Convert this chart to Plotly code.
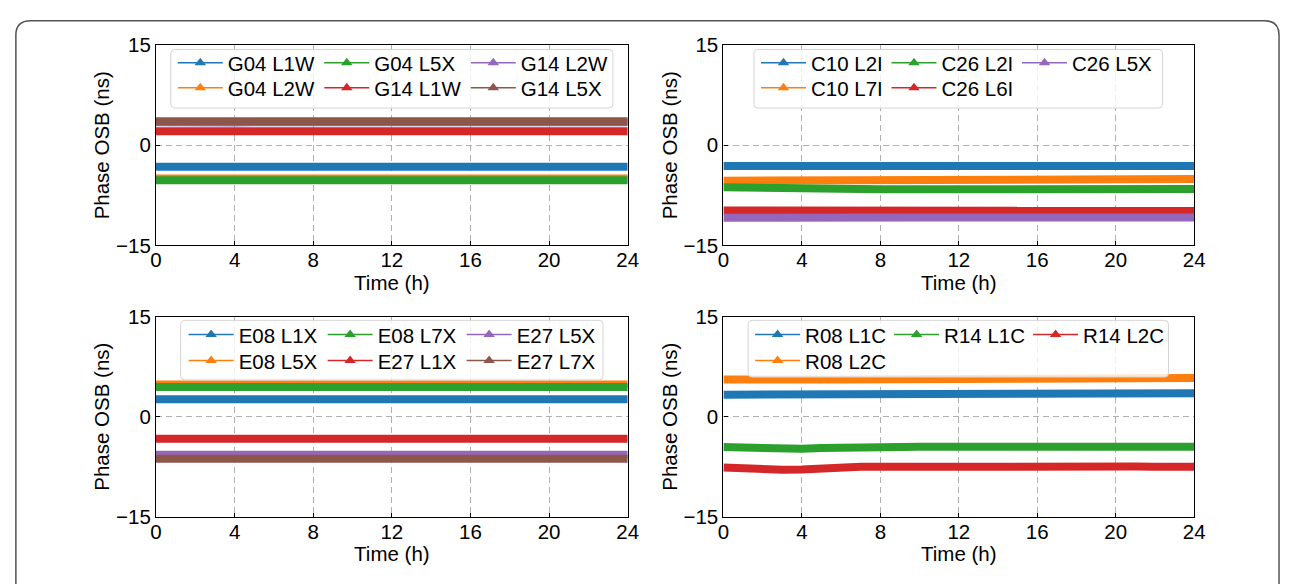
import plotly.graph_objects as go

W, H = 1292, 584

# ---------------- data ----------------
t_hours = [0, 1, 2, 3, 4, 5, 6, 7, 8, 9, 10, 11, 12, 13, 14, 15, 16, 17, 18, 19, 20, 21, 22, 23, 24]
x_ticks = [0, 4, 8, 12, 16, 20, 24]
y_ticks = [-15, 0, 15]

# Panel 1 (GPS)
G04_L1W = [-3.20, -3.20, -3.21, -3.20, -3.19, -3.20, -3.20, -3.21, -3.20, -3.20, -3.19, -3.20, -3.20, -3.21, -3.20, -3.20, -3.20, -3.19, -3.20, -3.20, -3.21, -3.20, -3.20, -3.20, -3.20]
G04_L2W = [-4.98, -4.98, -4.99, -4.98, -4.98, -4.97, -4.98, -4.98, -4.99, -4.98, -4.98, -4.98, -4.97, -4.98, -4.98, -4.99, -4.98, -4.98, -4.98, -4.97, -4.98, -4.98, -4.98, -4.99, -4.98]
G04_L5X = [-5.22, -5.22, -5.23, -5.22, -5.22, -5.21, -5.22, -5.22, -5.23, -5.22, -5.22, -5.22, -5.21, -5.22, -5.22, -5.23, -5.22, -5.22, -5.22, -5.21, -5.22, -5.22, -5.22, -5.23, -5.22]
G14_L1W = [2.10, 2.10, 2.09, 2.10, 2.10, 2.11, 2.10, 2.10, 2.09, 2.10, 2.10, 2.10, 2.11, 2.10, 2.10, 2.09, 2.10, 2.10, 2.10, 2.11, 2.10, 2.10, 2.10, 2.09, 2.10]
G14_L2W = [3.45, 3.40, 3.20, 3.22, 3.40, 3.45, 3.45, 3.40, 3.22, 3.18, 3.20, 3.28, 3.42, 3.45, 3.45, 3.45, 3.44, 3.45, 3.45, 3.45, 3.44, 3.45, 3.45, 3.45, 3.45]
G14_L5X = [3.60, 3.60, 3.61, 3.60, 3.60, 3.59, 3.60, 3.60, 3.61, 3.60, 3.60, 3.60, 3.59, 3.60, 3.60, 3.61, 3.60, 3.60, 3.60, 3.59, 3.60, 3.60, 3.60, 3.61, 3.60]

# Panel 2 (BDS)
C10_L2I = [-3.10, -3.10, -3.12, -3.10, -3.10, -3.08, -3.10, -3.10, -3.10, -3.10, -3.08, -3.05, -3.00, -2.98, -3.05, -3.15, -3.20, -3.18, -3.12, -3.05, -3.02, -3.10, -3.15, -3.15, -3.12]
C10_L7I = [-5.30, -5.30, -5.28, -5.30, -5.30, -5.28, -5.25, -5.25, -5.22, -5.20, -5.15, -5.12, -5.10, -5.10, -5.10, -5.10, -5.12, -5.10, -5.08, -5.08, -5.10, -5.10, -5.08, -5.05, -5.05]
C26_L2I = [-6.30, -6.30, -6.32, -6.30, -6.32, -6.35, -6.40, -6.55, -6.60, -6.60, -6.58, -6.55, -6.52, -6.50, -6.52, -6.55, -6.55, -6.52, -6.50, -6.52, -6.55, -6.55, -6.52, -6.52, -6.55]
C26_L6I = [-9.75, -9.75, -9.78, -9.78, -9.80, -9.80, -9.82, -9.85, -9.85, -9.85, -9.85, -9.85, -9.85, -9.85, -9.85, -9.85, -9.83, -9.82, -9.80, -9.80, -9.80, -9.80, -9.82, -9.82, -9.82]
C26_L5X = [-10.85, -10.82, -10.80, -10.80, -10.80, -10.82, -10.82, -10.85, -10.85, -10.85, -10.82, -10.82, -10.80, -10.80, -10.82, -10.82, -10.85, -10.85, -10.85, -10.82, -10.82, -10.82, -10.80, -10.80, -10.80]

# Panel 3 (Galileo)
E08_L1X = [2.60, 2.60, 2.61, 2.60, 2.60, 2.59, 2.60, 2.60, 2.61, 2.60, 2.60, 2.60, 2.59, 2.60, 2.60, 2.61, 2.60, 2.60, 2.60, 2.59, 2.60, 2.60, 2.60, 2.61, 2.60]
E08_L5X = [4.82, 4.82, 4.83, 4.82, 4.82, 4.81, 4.82, 4.82, 4.83, 4.82, 4.82, 4.82, 4.81, 4.82, 4.82, 4.83, 4.82, 4.82, 4.82, 4.81, 4.82, 4.82, 4.82, 4.83, 4.82]
E08_L7X = [4.45, 4.45, 4.46, 4.45, 4.45, 4.44, 4.45, 4.45, 4.45, 4.44, 4.38, 4.25, 4.22, 4.25, 4.38, 4.44, 4.45, 4.45, 4.45, 4.44, 4.45, 4.45, 4.45, 4.46, 4.45]
E27_L1X = [-3.30, -3.30, -3.31, -3.30, -3.30, -3.29, -3.30, -3.30, -3.31, -3.30, -3.30, -3.30, -3.29, -3.30, -3.30, -3.31, -3.30, -3.30, -3.30, -3.29, -3.30, -3.30, -3.30, -3.31, -3.30]
E27_L5X = [-5.72, -5.72, -5.73, -5.72, -5.72, -5.71, -5.72, -5.72, -5.73, -5.72, -5.72, -5.72, -5.71, -5.72, -5.72, -5.73, -5.72, -5.72, -5.72, -5.71, -5.72, -5.72, -5.72, -5.73, -5.72]
E27_L7X = [-6.30, -6.30, -6.31, -6.30, -6.30, -6.29, -6.30, -6.30, -6.31, -6.30, -6.30, -6.30, -6.29, -6.30, -6.30, -6.31, -6.30, -6.30, -6.30, -6.29, -6.30, -6.30, -6.30, -6.31, -6.30]

# Panel 4 (GLONASS)
R08_L1C = [3.30, 3.30, 3.28, 3.28, 3.30, 3.30, 3.32, 3.32, 3.33, 3.35, 3.38, 3.40, 3.40, 3.40, 3.40, 3.40, 3.42, 3.42, 3.45, 3.45, 3.45, 3.48, 3.50, 3.50, 3.52]
R08_L2C = [5.55, 5.50, 5.50, 5.52, 5.55, 5.55, 5.58, 5.60, 5.60, 5.62, 5.62, 5.62, 5.62, 5.62, 5.62, 5.62, 5.62, 5.65, 5.70, 5.72, 5.75, 5.75, 5.78, 5.80, 5.80]
R14_L1C = [-4.55, -4.65, -4.80, -4.85, -4.82, -4.70, -4.60, -4.55, -4.52, -4.52, -4.50, -4.50, -4.48, -4.48, -4.45, -4.45, -4.45, -4.48, -4.50, -4.50, -4.50, -4.50, -4.52, -4.52, -4.52]
R14_L2C = [-7.60, -7.75, -7.90, -7.95, -7.90, -7.70, -7.55, -7.50, -7.50, -7.48, -7.45, -7.45, -7.42, -7.40, -7.40, -7.38, -7.38, -7.40, -7.42, -7.45, -7.45, -7.48, -7.50, -7.50, -7.50]

x_title = "Time (h)"
y_title = "Phase OSB (ns)"

# ---------------- styling ----------------
C = {"blue": "#1f77b4", "orange": "#ff7f0e", "green": "#2ca02c",
     "red": "#d62728", "purple": "#9467bd", "brown": "#8c564b"}
FONT = "Liberation Sans, Arial, Helvetica, sans-serif"
FS = 20.5

panels = [
    [("G04 L1W", G04_L1W, C["blue"]), ("G04 L2W", G04_L2W, C["orange"]),
     ("G04 L5X", G04_L5X, C["green"]), ("G14 L1W", G14_L1W, C["red"]),
     ("G14 L2W", G14_L2W, C["purple"]), ("G14 L5X", G14_L5X, C["brown"])],
    [("C10 L2I", C10_L2I, C["blue"]), ("C10 L7I", C10_L7I, C["orange"]),
     ("C26 L2I", C26_L2I, C["green"]), ("C26 L6I", C26_L6I, C["red"]),
     ("C26 L5X", C26_L5X, C["purple"])],
    [("E08 L1X", E08_L1X, C["blue"]), ("E08 L5X", E08_L5X, C["orange"]),
     ("E08 L7X", E08_L7X, C["green"]), ("E27 L1X", E27_L1X, C["red"]),
     ("E27 L5X", E27_L5X, C["purple"]), ("E27 L7X", E27_L7X, C["brown"])],
    [("R08 L1C", R08_L1C, C["blue"]), ("R08 L2C", R08_L2C, C["orange"]),
     ("R14 L1C", R14_L1C, C["green"]), ("R14 L2C", R14_L2C, C["red"])],
]

# pixel geometry of each plot area: (left, right, top, bottom)
boxes = [(152, 630, 34.5, 243), (727, 1204, 34.5, 243),
         (152, 630, 317, 525.5), (727, 1204, 317, 525.5)]
# legend geometry: first line start x, column pitch, row centres, frame box
leg_geo = [
    dict(x0=175, pitch=148.5, rows=(53, 79), frame=(167, 39, 615, 100)),
    dict(x0=766, pitch=132.5, rows=(53, 79), frame=(758, 39, 1172, 100)),
    dict(x0=186, pitch=141, rows=(336, 363), frame=(177, 321, 605, 383)),
    dict(x0=760, pitch=141, rows=(336, 363), frame=(752, 321, 1178, 380)),
]

fig = go.Figure()
layout = dict(
    width=W, height=H, margin=dict(l=0, r=0, t=0, b=0),
    paper_bgcolor="white", plot_bgcolor="white",
    font=dict(family=FONT, size=FS, color="black"),
    shapes=[],
)


def px_x(x):
    return x / W


def px_y(y):
    return 1 - y / H


def rounded_path(x0, y0, x1, y1, r):
    pts = [
        ("M", x0 + r, y0), ("L", x1 - r, y0), ("Q", x1, y0, x1, y0 + r),
        ("L", x1, y1 - r), ("Q", x1, y1, x1 - r, y1), ("L", x0 + r, y1),
        ("Q", x0, y1, x0, y1 - r), ("L", x0, y0 + r), ("Q", x0, y0, x0 + r, y0),
    ]
    s = ""
    for p in pts:
        if p[0] == "Q":
            s += f"Q{px_x(p[1]):.6f},{px_y(p[2]):.6f} {px_x(p[3]):.6f},{px_y(p[4]):.6f} "
        else:
            s += f"{p[0]}{px_x(p[1]):.6f},{px_y(p[2]):.6f} "
    return s + "Z"


def column_layout(n, ncol=3):
    """matplotlib-style column filling: returns {(row, col): index}."""
    base, extra = divmod(n, ncol)
    out, k = {}, 0
    for c in range(ncol):
        cnt = base + (1 if c < extra else 0)
        for r in range(cnt):
            out[(r, c)] = k
            k += 1
    return out


legend_idx = 0
for i, (series, box, lg) in enumerate(zip(panels, boxes, leg_geo)):
    n = i + 1
    xa = "x" if n == 1 else f"x{n}"
    ya = "y" if n == 1 else f"y{n}"
    for label, vals, col in series:
        fig.add_trace(go.Scatter(x=t_hours, y=vals, mode="lines", name=label,
                                 line=dict(color=col, width=8), showlegend=False,
                                 xaxis=xa, yaxis=ya, hoverinfo="skip"))
    grid = column_layout(len(series))
    for r in range(2):
        legend_idx += 1
        lname = "legend" if legend_idx == 1 else f"legend{legend_idx}"
        for cidx in range(3):
            if (r, cidx) not in grid:
                continue
            label, vals, col = series[grid[(r, cidx)]]
            extra = {}
            if cidx == 2:
                extra["legendwidth"] = 110  # last column: leave room, no clipping
            fig.add_trace(go.Scatter(x=[None], y=[None], mode="lines+markers", name=label,
                                     line=dict(color=col, width=1.5),
                                     marker=dict(symbol="triangle-up", size=10, color=col),
                                     legend=lname, xaxis=xa, yaxis=ya, **extra))
        layout[lname] = dict(
            orientation="h", x=px_x(lg["x0"] - 6), y=px_y(lg["rows"][r]),
            xanchor="left", yanchor="middle", bgcolor="rgba(0,0,0,0)",
            borderwidth=0, itemwidth=45, entrywidth=lg["pitch"] - 62,
            entrywidthmode="pixels", font=dict(family=FONT, size=FS, color="black"),
            traceorder="normal", itemclick=False, itemdoubleclick=False,
        )
    fx0, fy0, fx1, fy1 = lg["frame"]
    layout["shapes"].append(dict(type="path", xref="paper", yref="paper",
                                 path=rounded_path(fx0, fy0, fx1, fy1, 4),
                                 line=dict(color="#d5d5d5", width=1),
                                 fillcolor="rgba(255,255,255,0.8)", layer="above"))

    l, rgt, top, bot = box
    axis_common = dict(showline=True, linecolor="black", linewidth=1.2, mirror=True,
                       ticks="inside", ticklen=4, tickwidth=1, tickcolor="black",
                       showgrid=True, gridcolor="#b0b0b0", gridwidth=1, griddash="6px,4px",
                       zeroline=False, tickfont=dict(family=FONT, size=FS, color="black"))
    layout["xaxis" if n == 1 else f"xaxis{n}"] = dict(
        axis_common, domain=[px_x(l), px_x(rgt)], anchor=ya, range=[0, 24],
        tickvals=x_ticks, ticktext=[str(v) for v in x_ticks], ticklabelstandoff=-4,
        title=dict(text=x_title, standoff=3, font=dict(family=FONT, size=FS)))
    layout["yaxis" if n == 1 else f"yaxis{n}"] = dict(
        axis_common, domain=[px_y(bot), px_y(top)], anchor=xa, range=[-15, 15],
        tickvals=y_ticks,
        title=dict(text=y_title, standoff=0, font=dict(family=FONT, size=FS)))

# outer rounded frame of the figure
frame_path = (f"M{px_x(10):.6f},{px_y(600):.6f} L{px_x(10):.6f},{px_y(24):.6f} "
              f"Q{px_x(10):.6f},{px_y(9):.6f} {px_x(25):.6f},{px_y(9):.6f} "
              f"L{px_x(1275):.6f},{px_y(9):.6f} "
              f"Q{px_x(1290):.6f},{px_y(9):.6f} {px_x(1290):.6f},{px_y(24):.6f} "
              f"L{px_x(1290):.6f},{px_y(600):.6f}")
layout["shapes"].append(dict(type="path", xref="paper", yref="paper", path=frame_path,
                             line=dict(color="#555555", width=1.5), layer="above"))

fig.update_layout(**layout)
fig.write_html("out.html", include_plotlyjs=True, config={"displayModeBar": False})
